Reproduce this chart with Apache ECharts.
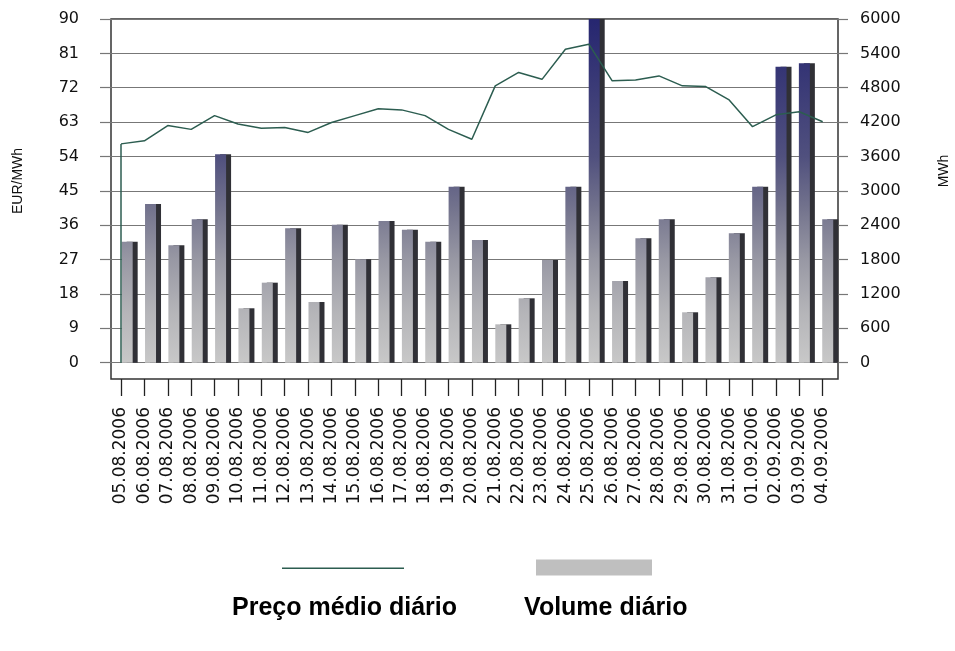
<!DOCTYPE html>
<html>
<head>
<meta charset="utf-8">
<script src="https://cdn.jsdelivr.net/npm/echarts@6/dist/echarts.min.js"></script>
<style>
  html, body { margin: 0; padding: 0; background: #ffffff; }
  #chart { width: 955px; height: 651px; }
</style>
</head>
<body>
<div id="chart"></div>
<script>
// Daily dates, August–September 2006
const dates = [
  '05.08.2006', '06.08.2006', '07.08.2006', '08.08.2006', '09.08.2006', '10.08.2006',
  '11.08.2006', '12.08.2006', '13.08.2006', '14.08.2006', '15.08.2006', '16.08.2006',
  '17.08.2006', '18.08.2006', '19.08.2006', '20.08.2006', '21.08.2006', '22.08.2006',
  '23.08.2006', '24.08.2006', '25.08.2006', '26.08.2006', '27.08.2006', '28.08.2006',
  '29.08.2006', '30.08.2006', '31.08.2006', '01.09.2006', '02.09.2006', '03.09.2006',
  '04.09.2006'
];

// Daily average price, EUR/MWh
const price = [
  57.3, 58.1, 62.1, 61.1, 64.7, 62.5, 61.4, 61.6, 60.3, 62.9, 64.7,
  66.5, 66.2, 64.7, 61.1, 58.5, 72.5, 76.0, 74.2, 82.1, 83.4, 73.8,
  74.0, 75.1, 72.5, 72.3, 68.8, 61.8, 64.9, 65.7, 63.1
];

// Daily traded volume, MWh
const volume = [
  2112, 2770, 2049, 2503, 3638, 950, 1397, 2346, 1060, 2409, 1805,
  2474, 2322, 2112, 3072, 2142, 670, 1124, 1793, 3072, 6000, 1426,
  2171, 2503, 880, 1490, 2259, 3072, 5167, 5227, 2503
];

// Axis scales
const priceAxis = { min: 0, max: 90, interval: 9 };
const volumeAxis = { min: 0, max: 6000, interval: 600 };

const seriesNames = ['Preço médio diário', 'Volume diário'];

// Plot geometry (px): value area and the frame strip below the zero line
const plotTop = 19;
const plotHeight = 343.7;
const frameStrip = 16.3;
// the date axis sits on the frame bottom, so its hidden price scale starts below zero
const lineAxisMin = -priceAxis.max * frameStrip / plotHeight;

const chart = echarts.init(document.getElementById('chart'), null, { renderer: 'canvas' });

const lineColor = '#2c5d50';
const gridColor = '#777777';
const tickFont = { fontFamily: 'DejaVu Sans', fontSize: 16, color: '#111111' };
const plain = function (v) { return String(v); };

// Bar face shading runs over the whole plot height (dark navy at the top, light grey at the base)
const barFace = new echarts.graphic.LinearGradient(0, plotTop, 0, plotTop + plotHeight, [
  { offset: 0, color: '#262670' },
  { offset: 0.4, color: '#50507e' },
  { offset: 0.55, color: '#73738d' },
  { offset: 0.7, color: '#9898a4' },
  { offset: 0.85, color: '#b4b4b8' },
  { offset: 1, color: '#c8c8c8' }
], true);

const option = {
  animation: false,
  backgroundColor: '#ffffff',
  grid: [
    // outer frame
    { left: 111, top: plotTop, width: 727, height: plotHeight + frameStrip, show: true, borderColor: '#333333', borderWidth: 1.5, backgroundColor: 'transparent' },
    // value scales and gridlines
    { left: 111, top: plotTop, width: 727, height: plotHeight },
    // bars
    { left: 115.5, top: plotTop, width: 723.9, height: plotHeight },
    // price line and date labels
    { left: 121, top: plotTop, width: 701.7, height: plotHeight + frameStrip }
  ],
  xAxis: [
    { gridIndex: 0, type: 'value', show: false },
    { gridIndex: 1, type: 'value', show: false },
    { gridIndex: 2, type: 'category', data: dates, show: false },
    {
      gridIndex: 3, type: 'category', data: dates, boundaryGap: false,
      axisLine: { show: false, onZero: false },
      axisTick: { show: true, length: 17, lineStyle: { color: '#222222', width: 1.3 } },
      axisLabel: { interval: 0, rotate: 90, margin: 28, ...tickFont, fontSize: 17 },
      splitLine: { show: false }
    }
  ],
  yAxis: [
    { gridIndex: 0, type: 'value', show: false },
    {
      gridIndex: 1, type: 'value', position: 'left', ...priceAxis,
      axisLine: { show: false },
      axisTick: { show: true, length: 11, lineStyle: { color: gridColor, width: 1.2 } },
      axisLabel: { margin: 32, formatter: plain, ...tickFont },
      splitLine: { show: true, lineStyle: { color: gridColor, width: 1.2 } }
    },
    {
      gridIndex: 1, type: 'value', position: 'right', ...volumeAxis,
      axisLine: { show: false },
      axisTick: { show: true, length: 10, lineStyle: { color: gridColor, width: 1.2 } },
      axisLabel: { margin: 22, formatter: plain, ...tickFont },
      splitLine: { show: false }
    },
    { gridIndex: 2, type: 'value', ...volumeAxis, show: false },
    { gridIndex: 3, type: 'value', min: lineAxisMin, max: priceAxis.max, show: false }
  ],
  legend: [
    {
      left: 282, top: 567.5, padding: 0, selectedMode: false,
      icon: 'rect', itemWidth: 122, itemHeight: 1.6,
      formatter: function () { return ''; },
      data: [{ name: seriesNames[0], itemStyle: { color: lineColor } }]
    },
    {
      left: 536, top: 559.5, padding: 0, selectedMode: false,
      icon: 'rect', itemWidth: 116, itemHeight: 16,
      formatter: function () { return ''; },
      data: [{ name: seriesNames[1], itemStyle: { color: '#bfbfbf', shadowColor: 'transparent', shadowOffsetX: 0, borderWidth: 0 } }]
    },
    {
      left: 227, top: 596, padding: 0, selectedMode: false,
      icon: 'none', itemWidth: 0, itemHeight: 0, itemGap: 62,
      textStyle: { fontFamily: 'Liberation Sans', fontWeight: 'bold', fontSize: 25, color: '#000000' },
      data: seriesNames.slice()
    }
  ],
  graphic: [
    {
      type: 'text', x: 18, y: 181, rotation: Math.PI / 2,
      style: { text: 'EUR/MWh', align: 'center', verticalAlign: 'middle', font: '14px "Liberation Sans"', fill: '#111111' }
    },
    {
      type: 'text', x: 944, y: 171, rotation: Math.PI / 2,
      style: { text: 'MWh', align: 'center', verticalAlign: 'middle', font: '14px "Liberation Sans"', fill: '#111111' }
    }
  ],
  series: [
    {
      name: seriesNames[1],
      type: 'bar',
      xAxisIndex: 2, yAxisIndex: 3,
      data: volume,
      barWidth: 11,
      itemStyle: {
        color: barFace,
        shadowColor: '#303036',
        shadowOffsetX: 5,
        shadowOffsetY: 0,
        shadowBlur: 0
      },
      z: 3
    },
    {
      name: seriesNames[0],
      type: 'line',
      xAxisIndex: 3, yAxisIndex: 4,
      data: price,
      symbol: 'none',
      lineStyle: { color: lineColor, width: 1.5 },
      itemStyle: { color: lineColor },
      z: 4,
      markLine: {
        silent: true,
        symbol: ['none', 'none'],
        label: { show: false },
        lineStyle: { color: lineColor, width: 1.5, type: 'solid' },
        data: [[
          { coord: [dates[0], 0] },
          { coord: [dates[0], price[0]] }
        ]]
      }
    }
  ]
};

chart.setOption(option);
</script>
</body>
</html>
